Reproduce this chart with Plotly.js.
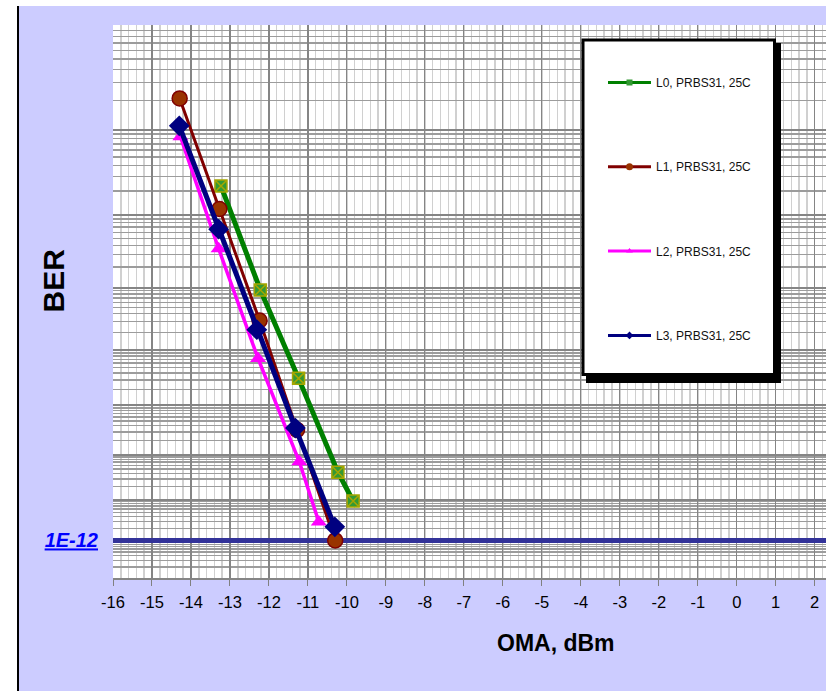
<!DOCTYPE html>
<html>
<head>
<meta charset="utf-8">
<script src="https://cdn.plot.ly/plotly-3.0.1.min.js"></script>
<style>
  html, body { margin: 0; padding: 0; background: #ffffff; width: 826px; height: 691px; overflow: hidden; }
  #frame { position: absolute; left: 17px; top: 6px; width: 2px; height: 685px; background: #000000; }
  #chart { position: absolute; left: 19px; top: 6px; width: 807px; height: 685px; }
</style>
</head>
<body>
<div id="frame"></div>
<div id="chart"></div>
<script>
// ---- data ----
const SERIES_NAMES = ["L0, PRBS31, 25C", "L1, PRBS31, 25C", "L2, PRBS31, 25C", "L3, PRBS31, 25C"];
const L0_OMA = [-13.23, -12.22, -11.24, -10.23, -9.84];
const L0_BER = [2.3e-6, 9.2e-8, 3.2e-9, 4.2e-11, 9.3e-12];
const L1_OMA = [-14.29, -13.27, -12.24, -11.28, -10.30];
const L1_BER = [2.1e-5, 1.2e-6, 3.1e-8, 3.3e-10, 1.0e-12];
const L2_OMA = [-14.27, -13.29, -12.28, -11.22, -10.72];
const L2_BER = [8.4e-6, 3.6e-7, 7.2e-9, 7.1e-11, 2.9e-12];
const L3_OMA = [-14.30, -13.29, -12.31, -11.32, -10.31];
const L3_BER = [1.1e-5, 6.6e-7, 2.2e-8, 3.6e-10, 2.2e-12];
const BER_TARGET = 1e-12;
const BER_TARGET_LABEL = "1E-12";
const BER_DECADE_EXP = [4, 5, 6, 7, 8, 9, 10, 11, 12, 13];
const BER_MANTISSAS = [2, 3, 4, 5, 6, 7, 8, 9];
const X_TICKS = [-16, -15, -14, -13, -12, -11, -10, -9, -8, -7, -6, -5, -4, -3, -2, -1, 0, 1, 2];
const X_TICK_LABELS = ["-16", "-15", "-14", "-13", "-12", "-11", "-10", "-9", "-8", "-7", "-6", "-5", "-4", "-3", "-2", "-1", "0", "1", "2"];
const X_RANGE = [-16, 2.29];

// BER scale: q = -log10(BER) drawn on a log axis, i.e. log10(-log10(BER))
const q = b => -Math.log10(b);
const qs = arr => arr.map(q);
const FONT = "Liberation Sans, Arial, sans-serif";

// grid positions derived from the BER decades and mantissas
const majorY = BER_DECADE_EXP.map(n => n);
const majorYText = BER_DECADE_EXP.map(n => (Math.abs(q(BER_TARGET) - n) < 1e-9 ? BER_TARGET_LABEL : ""));
const minorY = [];
BER_DECADE_EXP.slice(0, -1).forEach(n => {
  BER_MANTISSAS.forEach(k => minorY.push(n + 1 - Math.log10(k)));
});

const styles = [
  { color: "#008000", width: 5, symbol: "square-x", size: 12, fill: "#339933", lc: "#a6a600", lw: 1.5 },
  { color: "#800000", width: 3, symbol: "circle", size: 15, fill: "#993300", lc: "#800000", lw: 1.5 },
  { color: "#ff00ff", width: 3.5, symbol: "triangle-up", size: 14, fill: "#ff00ff", lc: "#ff00ff", lw: 0 },
  { color: "#000080", width: 5, symbol: "diamond", size: 16, fill: "#000080", lc: "#000080", lw: 0 }
];
const xs = [L0_OMA, L1_OMA, L2_OMA, L3_OMA];
const ys = [L0_BER, L1_BER, L2_BER, L3_BER];

const traces = [];
// 1E-12 target line
traces.push({
  x: X_RANGE, y: [q(BER_TARGET), q(BER_TARGET)], mode: "lines",
  line: { color: "#333399", width: 5 }, showlegend: false, hoverinfo: "skip"
});
// measured series
for (let i = 0; i < 4; i++) {
  const s = styles[i];
  traces.push({
    x: xs[i], y: qs(ys[i]), mode: "lines+markers", name: SERIES_NAMES[i], showlegend: false,
    line: { color: s.color, width: s.width },
    marker: { symbol: s.symbol, size: s.size, color: s.fill, line: { color: s.lc, width: s.lw } },
    cliponaxis: false
  });
}
// legend entries (small symbols, as in the reference legend)
for (let i = 0; i < 4; i++) {
  const s = styles[i];
  traces.push({
    x: [null], y: [null], mode: "lines+markers", name: SERIES_NAMES[i], legendgroup: "g" + i,
    line: { color: s.color, width: 3 },
    marker: { symbol: s.symbol === "square-x" ? "square" : s.symbol, size: s.symbol === "circle" ? 7 : 6,
              color: s.fill, line: { color: s.lc, width: 0 } }
  });
}

// page pixel -> paper coords (plot area spans x 113..826, y 25..578 on the page)
const px = v => (v - 113) / 713;
const py = v => (578 - v) / 553;

const layout = {
  width: 807, height: 685,
  margin: { l: 94, r: 0, t: 19, b: 113 },
  paper_bgcolor: "#ccccff",
  plot_bgcolor: "#ffffff",
  showlegend: true,
  hovermode: false,
  font: { family: FONT, color: "#000000" },
  xaxis: {
    range: X_RANGE, tickmode: "array", tickvals: X_TICKS, ticktext: X_TICK_LABELS,
    tickfont: { family: FONT, size: 16.5, color: "#000000" },
    ticks: "outside", ticklen: 6, tickcolor: "#808080", tickwidth: 1,
    showgrid: true, gridcolor: "#858585", gridwidth: 1.2, zeroline: false,
    showline: true, linecolor: "#858585", linewidth: 1.5, mirror: false,
    ticklabelstandoff: 3,
    minor: { tickmode: "linear", tick0: -16, dtick: 0.2, showgrid: true, gridcolor: "#d0d0d0", gridwidth: 1.5, ticks: "" }
  },
  yaxis: {
    type: "log", range: [Math.log10(13), Math.log10(4)],
    tickmode: "array", tickvals: majorY, ticktext: majorYText,
    tickfont: { family: FONT, size: 20, color: "#0000ff", weight: "bold", style: "italic", lineposition: "under" },
    ticks: "", ticklabelstandoff: 14,
    showgrid: true, gridcolor: "#858585", gridwidth: 2, zeroline: false, showline: false,
    minor: { tickmode: "array", tickvals: minorY, showgrid: true, gridcolor: "#9c9c9c", gridwidth: 1.4, ticks: "" }
  },
  legend: {
    x: px(603), y: py(68), xanchor: "left", yanchor: "top",
    bgcolor: "rgba(0,0,0,0)", borderwidth: 0,
    font: { family: FONT, size: 12, color: "#111111" },
    tracegroupgap: 65.3, itemwidth: 43
  },
  shapes: [
    { type: "rect", xref: "paper", yref: "paper", x0: px(586), x1: px(781), y0: py(383), y1: py(43),
      fillcolor: "#000000", line: { width: 0 }, layer: "above" },
    { type: "rect", xref: "paper", yref: "paper", x0: px(583), x1: px(774.5), y0: py(374.5), y1: py(40),
      fillcolor: "#ffffff", line: { color: "#000000", width: 3 }, layer: "above" }
  ],
  annotations: [
    { text: "BER", xref: "paper", yref: "paper", x: px(52.5), y: py(281), xanchor: "center", yanchor: "middle",
      textangle: -90, showarrow: false, font: { family: FONT, size: 30, weight: "bold", color: "#000000" } },
    { text: "OMA, dBm", xref: "paper", yref: "paper", x: px(556), y: py(643), xanchor: "center", yanchor: "middle",
      showarrow: false, font: { family: FONT, size: 23, weight: "bold", color: "#000000" } }
  ]
};

Plotly.newPlot("chart", traces, layout, { displayModeBar: false, staticPlot: true });
</script>
</body>
</html>
